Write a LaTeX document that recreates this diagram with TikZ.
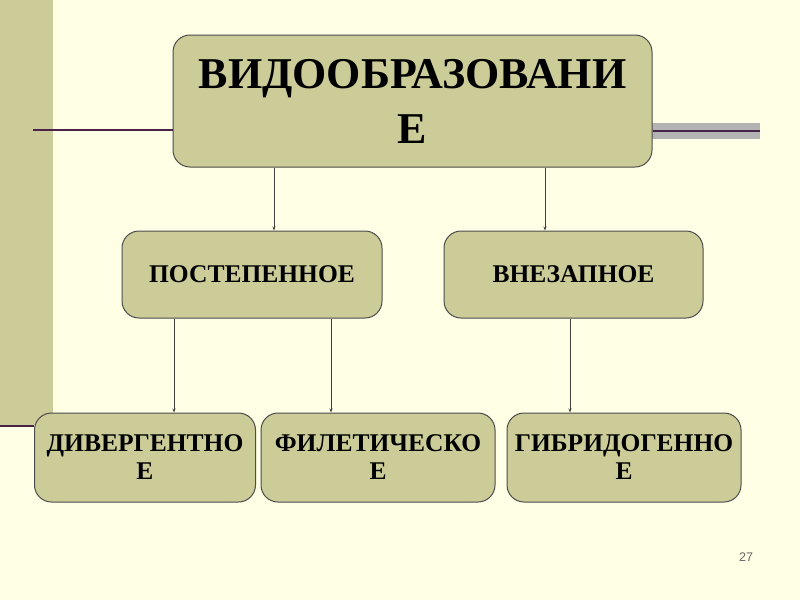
\documentclass[tikz,border=0pt]{standalone}
\usepackage{fontspec}
\setmainfont{Liberation Serif}
\setsansfont{Liberation Sans}
\usepackage{xcolor}
\usetikzlibrary{arrows.meta,calc}

\definecolor{slidebg}{HTML}{FFFFE5}
\definecolor{olive}{HTML}{CCCC99}
\definecolor{plum}{HTML}{4A2448}
\definecolor{bandgray}{HTML}{B3B3B3}

\begin{document}
\begin{tikzpicture}[
  x=1pt,y=-1pt,
  font=\bfseries\fontsize{25.5}{28}\selectfont,
  box/.style={draw=black!70,line width=1pt,fill=olive,rounded corners=17pt,
    align=center,inner sep=0pt},
  title/.style={box,font=\bfseries\fontsize{44}{55}\selectfont},
  link/.style={draw=black!75,line width=0.7pt,-{Stealth[length=4pt,width=3pt]}},
  rule/.style={draw=plum,line width=1.6pt}
]
\fill[slidebg] (0,0) rectangle (800,600);
\useasboundingbox (0,0) rectangle (800,600);
\fill[olive] (0,0) rectangle (53,425);
\fill[bandgray] (652,123) rectangle (760,139);
\node[title,minimum width=479pt,minimum height=132pt] (kind) at (412.5,101) {ВИДООБРАЗОВАНИ\\Е};
\node[box,minimum width=260pt,minimum height=87pt] (grad) at (252,274.5) {ПОСТЕПЕННОЕ};
\node[box,minimum width=259pt,minimum height=87pt] (sudden) at (573.5,274.5) {ВНЕЗАПНОЕ};
\node[box,minimum width=221pt,minimum height=89pt] (diverg) at (145,457.5) {ДИВЕРГЕНТНО\\Е};
\node[box,minimum width=234pt,minimum height=89pt] (phyl) at (378,457.5) {ФИЛЕТИЧЕСКО\\Е};
\node[box,minimum width=234pt,minimum height=89pt] (hybrid) at (624,457.5) {ГИБРИДОГЕННО\\Е};
\node[font=\sffamily\fontsize{12.5}{14}\selectfont,text=black!60] (page) at (746,557) {27};
% decorative rules
\draw[rule] (33,130) -- (kind.west |- 0,130);
\draw[rule] (kind.east |- 0,131) -- (760,131);
\draw[rule,line width=2.8pt] (0,426) -- (diverg.west |- 0,426);
% links
\draw[link] (kind.south -| 274,0) -- (grad.north -| 274,0);
\draw[link] (kind.south -| 545,0) -- (sudden.north -| 545,0);
\draw[link] (grad.south -| 174,0) -- (diverg.north -| 174,0);
\draw[link] (grad.south -| 331,0) -- (phyl.north -| 331,0);
\draw[link] (sudden.south -| 570,0) -- (hybrid.north -| 570,0);
\end{tikzpicture}
\end{document}
